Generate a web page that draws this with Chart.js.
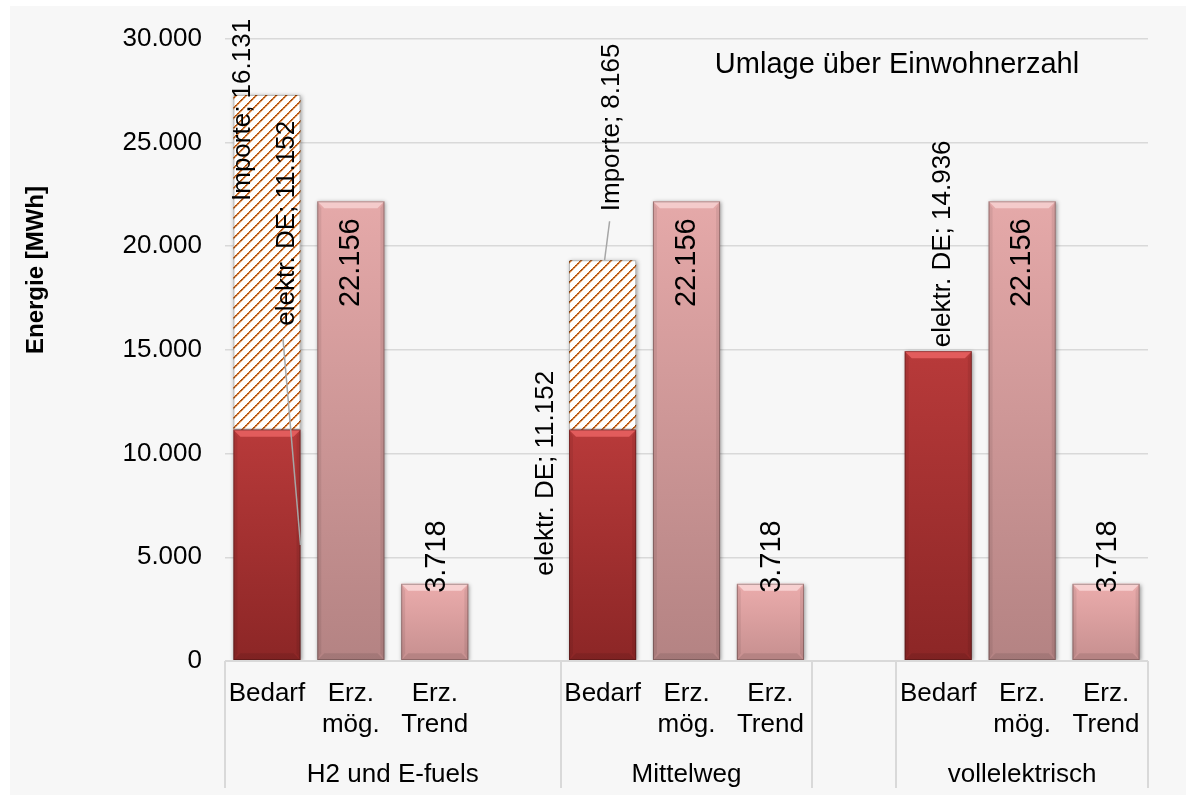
<!DOCTYPE html>
<html lang="de">
<head>
<meta charset="utf-8">
<title>Energiebedarf und Erzeugung</title>
<script src="https://cdn.jsdelivr.net/npm/chart.js@4.4.1/dist/chart.umd.min.js"></script>
<style>
  html, body { margin: 0; padding: 0; background: #fff; }
  #wrap { position: relative; width: 1186px; height: 795px; }
</style>
</head>
<body>
<div id="wrap"><canvas id="chart" width="1186" height="795"></canvas></div>
<script>
const FONT = '"Liberation Sans", Arial, Helvetica, sans-serif';

// scenarios and the three bars shown for each of them
const scenarios = ['H2 und E-fuels', 'Mittelweg', 'vollelektrisch'];
const barNames = [['Bedarf'], ['Erz.', 'mög.'], ['Erz.', 'Trend']];

// energy in MWh, one entry per scenario
const elektrDE = [11152, 11152, 14936];
const importe = [16131, 8165, null];
const erzMoeglich = [22156, 22156, 22156];
const erzTrend = [3718, 3718, 3718];

const yMax = 30000;
const yStep = 5000;

// slots on the category axis: scenario bars start at these, slots 3 and 7 stay empty
const firstSlot = [0, 4, 8];
const slotCount = 11;
// second axis level: slot edges of the boxes and which scenario sits in them
const groupBoxes = [
  { from: 0, to: 4, name: scenarios[0] },
  { from: 4, to: 7, name: scenarios[1] },
  { from: 7, to: 8, name: '' },
  { from: 8, to: 11, name: scenarios[2] },
];

const fmt = v => String(v).replace(/\B(?=(\d{3})+(?!\d))/g, '.');

function spread(values, offset) {
  const out = new Array(slotCount).fill(null);
  values.forEach((v, s) => { out[firstSlot[s] + offset] = v; });
  return out;
}

const labels = new Array(slotCount).fill('');
barNames.forEach((name, k) => firstSlot.forEach(f => { labels[f + k] = name; }));

function vGradient(top, bottom) {
  return c => {
    const chart = c.chart, y = chart.scales.y;
    if (!chart.chartArea || c.raw == null || !y) return top;
    const g = chart.ctx.createLinearGradient(0, y.getPixelForValue(c.raw), 0, y.getPixelForValue(0));
    g.addColorStop(0, top);
    g.addColorStop(1, bottom);
    return g;
  };
}

// dotted diagonal hatch used for the imports
function hatch() {
  const s = 10;
  const cv = document.createElement('canvas');
  cv.width = cv.height = s;
  const g = cv.getContext('2d');
  const img = g.createImageData(s, s);
  for (let y = 0; y < s; y++) {
    for (let x = 0; x < s; x++) {
      const i = (y * s + x) * 4;
      let col = [255, 255, 255];
      const band = (x + y) % s;
      if (band < 2) {
        col = ((x - y + 20) % 4) < 2 ? [172, 80, 16] : [212, 122, 52];
      } else if (band === 2) {
        col = [240, 200, 165];
      }
      img.data[i] = col[0]; img.data[i + 1] = col[1]; img.data[i + 2] = col[2]; img.data[i + 3] = 255;
    }
  }
  g.putImageData(img, 0, 0);
  return g.createPattern(cv, 'repeat');
}

const dsOffset = [0, 0, 1, 2];
const datasets = [
  { label: 'elektr. DE', data: spread(elektrDE, 0), backgroundColor: vGradient('#b83a3a', '#8c2626'), bevel: '#e25c5c' },
  { label: 'Importe', data: spread(importe, 0), backgroundColor: hatch() },
  { label: 'Erz. mög.', data: spread(erzMoeglich, 1), backgroundColor: vGradient('#e5a9a9', '#b48383'), bevel: '#f4cbcb' },
  { label: 'Erz. Trend', data: spread(erzTrend, 2), backgroundColor: vGradient('#ebacac', '#c68f8f'), bevel: '#f7d0d0' },
];

// where each data label sits relative to its bar top; 'up' = text starts at the anchor
const labelSpots = [
  { ds: 0, s: 0, dx: 20, dy: -104, dir: 'up', named: true, leader: { from: [-4, 13], to: 'side' } },
  { ds: 1, s: 0, dx: -24, dy: 106, dir: 'up', named: true },
  { ds: 0, s: 1, dx: -57, dy: 146, dir: 'up', named: true },
  { ds: 1, s: 1, dx: 9, dy: -49, dir: 'up', named: true, leader: { from: [-2, 10], to: 'top' } },
  { ds: 0, s: 2, dx: 5, dy: -4, dir: 'up', named: true },
  { ds: 2, s: 0, dx: 0, dy: 17, dir: 'down' },
  { ds: 2, s: 1, dx: 0, dy: 17, dir: 'down' },
  { ds: 2, s: 2, dx: 0, dy: 17, dir: 'down' },
  { ds: 3, s: 0, dx: 2, dy: 9, dir: 'up' },
  { ds: 3, s: 1, dx: 2, dy: 9, dir: 'up' },
  { ds: 3, s: 2, dx: 2, dy: 9, dir: 'up' },
];

const backdrop = {
  id: 'backdrop',
  beforeDraw(chart) {
    const ctx = chart.ctx;
    ctx.save();
    ctx.fillStyle = '#ffffff';
    ctx.fillRect(0, 0, chart.width, chart.height);
    ctx.fillStyle = '#f7f7f7';
    ctx.fillRect(10, 6, chart.width - 10, chart.height - 6);
    ctx.restore();
  }
};

const barShadow = {
  id: 'barShadow',
  beforeDatasetsDraw(chart) {
    const ctx = chart.ctx;
    ctx.save();
    ctx.shadowColor = 'rgba(0,0,0,0.4)';
    ctx.shadowBlur = 4;
    ctx.shadowOffsetX = 1;
    ctx.shadowOffsetY = 1;
  },
  afterDatasetsDraw(chart) {
    chart.ctx.restore();
  }
};

// bevelled edges on the bars, then the rotated data labels
const barDecor = {
  id: 'barDecor',
  afterDatasetsDraw(chart) {
    const ctx = chart.ctx;
    chart.data.datasets.forEach((ds, di) => {
      chart.getDatasetMeta(di).data.forEach((el, i) => {
        if (ds.data[i] == null) return;
        const l = el.x - el.width / 2, r = el.x + el.width / 2, t = el.y, b = el.base;
        ctx.save();
        if (ds.bevel) {
          const bv = 7;
          ctx.fillStyle = ds.bevel;
          ctx.beginPath();
          ctx.moveTo(l, t); ctx.lineTo(r, t); ctx.lineTo(r - bv, t + bv); ctx.lineTo(l + bv, t + bv);
          ctx.closePath(); ctx.fill();
          ctx.fillStyle = 'rgba(0,0,0,0.09)';
          ctx.beginPath();
          ctx.moveTo(l, b); ctx.lineTo(r, b); ctx.lineTo(r - bv, b - bv); ctx.lineTo(l + bv, b - bv);
          ctx.closePath(); ctx.fill();
          ctx.fillStyle = 'rgba(0,0,0,0.07)';
          ctx.beginPath();
          ctx.moveTo(l, t); ctx.lineTo(l + 4, t + bv); ctx.lineTo(l + 4, b - bv); ctx.lineTo(l, b);
          ctx.closePath(); ctx.fill();
          ctx.beginPath();
          ctx.moveTo(r, t); ctx.lineTo(r - 4, t + bv); ctx.lineTo(r - 4, b - bv); ctx.lineTo(r, b);
          ctx.closePath(); ctx.fill();
        }
        ctx.strokeStyle = 'rgba(0,0,0,0.28)';
        ctx.lineWidth = 1;
        ctx.strokeRect(l + 0.5, t + 0.5, r - l - 1, b - t - 1);
        ctx.restore();
      });
    });

    labelSpots.forEach(sp => {
      const idx = firstSlot[sp.s] + dsOffset[sp.ds];
      const ds = chart.data.datasets[sp.ds];
      const v = ds.data[idx];
      if (v == null) return;
      const el = chart.getDatasetMeta(sp.ds).data[idx];
      const ax = el.x + sp.dx, ay = el.y + sp.dy;
      ctx.save();
      if (sp.leader) {
        const [fx, fy] = sp.leader.from;
        const tx = sp.leader.to === 'side' ? el.x + el.width / 2 : el.x + 2;
        const ty = sp.leader.to === 'side' ? (el.y + el.base) / 2 : el.y;
        ctx.strokeStyle = '#a6a6a6';
        ctx.lineWidth = 1.5;
        ctx.beginPath();
        ctx.moveTo(ax + fx, ay + fy);
        ctx.lineTo(tx, ty);
        ctx.stroke();
      }
      ctx.translate(ax, ay);
      ctx.rotate(-Math.PI / 2);
      ctx.textAlign = sp.dir === 'up' ? 'left' : 'right';
      ctx.textBaseline = 'middle';
      ctx.fillStyle = '#000';
      ctx.font = (sp.named ? '26px ' : '29px ') + FONT;
      ctx.fillText(sp.named ? ds.label + '; ' + fmt(v) : fmt(v), 0, 0);
      ctx.restore();
    });
  }
};

// axis line, group boxes of the category axis, axis title and note
const axisDecor = {
  id: 'axisDecor',
  afterDraw(chart) {
    const ctx = chart.ctx, x = chart.scales.x, area = chart.chartArea;
    const slotW = (x.right - x.left) / slotCount;
    ctx.save();
    ctx.strokeStyle = '#d9d9d9';
    ctx.lineWidth = 2;
    ctx.beginPath();
    ctx.moveTo(x.left, area.bottom);
    ctx.lineTo(x.right, area.bottom);
    const edges = new Set();
    groupBoxes.forEach(g => { edges.add(g.from); edges.add(g.to); });
    edges.forEach(e => {
      const px = Math.round(x.left + e * slotW);
      ctx.moveTo(px, area.bottom);
      ctx.lineTo(px, 788);
    });
    ctx.stroke();

    ctx.fillStyle = '#000';
    ctx.font = '26px ' + FONT;
    ctx.textAlign = 'center';
    ctx.textBaseline = 'alphabetic';
    groupBoxes.forEach(g => {
      if (!g.name) return;
      ctx.fillText(g.name, x.left + (g.from + g.to) / 2 * slotW, 782);
    });

    ctx.font = '29px ' + FONT;
    ctx.fillText('Umlage über Einwohnerzahl', 897, 73);

    ctx.translate(36, 270);
    ctx.rotate(-Math.PI / 2);
    ctx.font = 'bold 24px ' + FONT;
    ctx.textBaseline = 'middle';
    ctx.fillText('Energie [MWh]', 0, 0);
    ctx.restore();
  }
};

new Chart(document.getElementById('chart'), {
  type: 'bar',
  data: { labels, datasets },
  plugins: [backdrop, barShadow, barDecor, axisDecor],
  options: {
    responsive: false,
    devicePixelRatio: 1,
    animation: false,
    layout: { padding: { top: 37, right: 38, left: 0, bottom: 0 } },
    datasets: { bar: { barPercentage: 0.8, categoryPercentage: 1, borderWidth: 0 } },
    plugins: { legend: { display: false }, tooltip: { enabled: false } },
    scales: {
      x: {
        stacked: true,
        grid: { display: false, drawTicks: false },
        border: { display: false },
        ticks: {
          autoSkip: false, maxRotation: 0, minRotation: 0, padding: 17,
          color: '#000', font: { family: FONT, size: 26, lineHeight: 1.19 }
        },
        afterFit: s => { s.height = 134; }
      },
      y: {
        stacked: true,
        min: 0,
        max: yMax,
        grid: { color: '#d9d9d9', lineWidth: 1.5, drawTicks: false },
        border: { display: false },
        ticks: {
          stepSize: yStep, padding: 23, color: '#000',
          font: { family: FONT, size: 26 },
          callback: v => fmt(v)
        },
        afterFit: s => { s.width = 225; }
      }
    }
  }
});
</script>
</body>
</html>
